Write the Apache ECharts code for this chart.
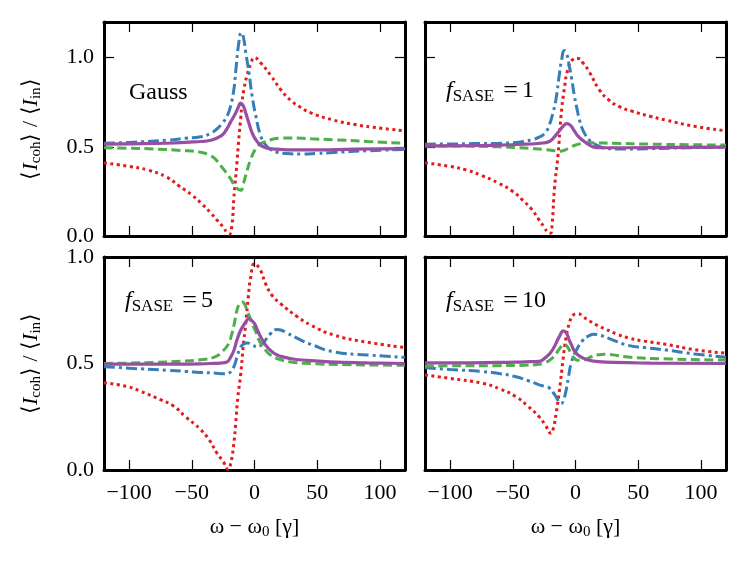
<!DOCTYPE html>
<html>
<head>
<meta charset="utf-8">
<script src="https://cdn.jsdelivr.net/npm/echarts@6/dist/echarts.min.js"></script>
<style>
  html, body { margin: 0; padding: 0; background: #fff; }
  #chart { width: 748px; height: 564px; }
</style>
</head>
<body>
<div id="chart"></div>
<script>
// tick values
var xTicks = [-100, -50, 0, 50, 100];
var yTicks = [0, 0.5, 1.0];
var yMaxTop = 1.2;
var yMaxBottom = 1.0;
var panelLabels = ['Gauss', '1', '5', '10'];

// Gauss
var gaussRed = [[-120,0.41],[-100,0.39],[-85,0.37],[-70,0.33],[-60,0.28],[-50,0.23],[-42,0.18],[-35,0.13],[-30,0.09],[-25,0.05],[-22,0.02],[-20,0.01],[-18,0.06],[-16.5,0.21],[-14,0.41],[-12.5,0.545],[-11,0.66],[-9.9,0.75],[-8.5,0.82],[-6,0.90],[-3,0.965],[0,1.0],[5,0.97],[13,0.90],[21,0.82],[29,0.76],[37,0.72],[45,0.69],[63,0.65],[80,0.625],[100,0.605],[120,0.59]];
var gaussBlue = [[-120,0.52],[-100,0.525],[-70,0.537],[-55,0.548],[-43,0.556],[-35,0.575],[-30,0.60],[-26,0.63],[-22,0.67],[-19,0.73],[-16.5,0.82],[-15,0.92],[-12.5,1.085],[-10.5,1.14],[-9,1.12],[-7,1.03],[-4.5,0.92],[-2,0.79],[1,0.675],[5,0.56],[9,0.51],[13,0.485],[18,0.47],[25,0.462],[37,0.46],[50,0.463],[63,0.468],[90,0.478],[120,0.485]];
var gaussGreen = [[-120,0.495],[-100,0.492],[-80,0.488],[-59,0.48],[-43,0.47],[-35,0.45],[-31,0.43],[-27,0.395],[-23,0.36],[-19,0.32],[-15,0.274],[-11,0.256],[-9,0.29],[-7,0.34],[-3,0.43],[1,0.49],[5,0.517],[9,0.53],[13,0.54],[20,0.548],[29,0.55],[45,0.545],[63,0.54],[90,0.53],[120,0.52]];
var gaussPurple = [[-120,0.515],[-100,0.517],[-70,0.52],[-43,0.53],[-35,0.537],[-27,0.56],[-23,0.59],[-19,0.64],[-15,0.69],[-13,0.72],[-11,0.745],[-9,0.73],[-7,0.69],[-5,0.645],[-3,0.60],[-1,0.565],[1,0.54],[4,0.515],[7,0.50],[12,0.49],[18,0.487],[30,0.483],[50,0.483],[80,0.487],[120,0.49]];

// f_SASE = 1
var f1Red = [[-120,0.41],[-100,0.39],[-87,0.37],[-75,0.34],[-61,0.295],[-50,0.25],[-42,0.20],[-35,0.15],[-29,0.09],[-25,0.05],[-22,0.02],[-20,0.015],[-18.5,0.08],[-16.8,0.265],[-14,0.45],[-11.5,0.675],[-9,0.82],[-6,0.936],[-2,0.99],[2,0.996],[6,0.97],[11,0.92],[19,0.82],[27,0.76],[35,0.725],[45,0.70],[60,0.67],[72,0.65],[95,0.615],[120,0.59]];
var f1Blue = [[-120,0.515],[-100,0.516],[-80,0.518],[-61,0.52],[-45,0.526],[-35,0.54],[-29,0.554],[-24,0.58],[-21,0.62],[-18,0.69],[-15.5,0.77],[-13,0.90],[-11,0.99],[-9,1.04],[-7,1.02],[-5,0.955],[-3,0.88],[-1,0.79],[1,0.72],[3,0.656],[5.5,0.60],[8.5,0.56],[12,0.53],[15,0.517],[20,0.50],[25,0.49],[40,0.488],[60,0.49],[90,0.495],[120,0.498]];
var f1Green = [[-120,0.505],[-100,0.505],[-61,0.50],[-45,0.495],[-34,0.49],[-25,0.485],[-18,0.48],[-13,0.475],[-9,0.48],[-5,0.495],[0,0.51],[6,0.52],[12,0.523],[17,0.522],[30,0.52],[60,0.515],[90,0.512],[120,0.51]];
var f1Purple = [[-120,0.505],[-100,0.505],[-61,0.51],[-40,0.515],[-28,0.52],[-21,0.53],[-17,0.555],[-14,0.58],[-10,0.615],[-7,0.63],[-4,0.62],[-1,0.59],[2,0.56],[6,0.535],[10,0.515],[14,0.50],[20,0.495],[40,0.495],[80,0.497],[120,0.498]];

// f_SASE = 5
var f5Red = [[-120,0.41],[-100,0.39],[-91,0.37],[-75,0.33],[-64.5,0.30],[-55,0.25],[-43,0.19],[-36,0.14],[-30,0.08],[-25,0.04],[-21,0.003],[-19,0.03],[-16.5,0.124],[-15,0.22],[-13.3,0.34],[-11,0.45],[-9,0.58],[-7,0.687],[-5,0.81],[-3,0.906],[0,0.969],[4.8,0.937],[8.8,0.875],[14,0.82],[21,0.78],[34,0.72],[45,0.68],[63,0.634],[90,0.60],[120,0.575]];
var f5Blue = [[-120,0.485],[-100,0.478],[-70,0.468],[-55,0.463],[-43,0.458],[-32,0.455],[-24,0.452],[-20.5,0.455],[-18.5,0.465],[-16.5,0.484],[-14,0.53],[-12,0.565],[-10,0.585],[-6,0.596],[-2,0.59],[2,0.577],[5,0.585],[7.5,0.60],[12.8,0.64],[18,0.66],[22,0.655],[26,0.643],[37,0.61],[45,0.59],[63,0.555],[90,0.54],[120,0.529]];
var f5Green = [[-120,0.50],[-100,0.502],[-80,0.505],[-59,0.51],[-43,0.518],[-32,0.53],[-25,0.56],[-21,0.59],[-18,0.64],[-16,0.69],[-14,0.75],[-12,0.78],[-10,0.79],[-8,0.78],[-6,0.75],[-4,0.72],[-2,0.687],[1,0.65],[3.5,0.61],[7,0.58],[10,0.554],[14,0.535],[18,0.523],[29,0.507],[45,0.50],[70,0.495],[120,0.492]];
var f5Purple = [[-120,0.497],[-100,0.497],[-59,0.497],[-35,0.50],[-27,0.502],[-22,0.507],[-19,0.53],[-16.5,0.56],[-14,0.61],[-11,0.656],[-7,0.695],[-4.5,0.71],[-2,0.70],[0,0.687],[2.5,0.655],[5,0.624],[8.5,0.59],[13,0.56],[18,0.54],[23.5,0.53],[32,0.52],[42,0.515],[60,0.508],[90,0.503],[120,0.50]];

// f_SASE = 10
var f10Red = [[-120,0.446],[-100,0.43],[-74,0.407],[-60,0.38],[-47.5,0.344],[-38,0.30],[-29,0.25],[-24,0.21],[-19.5,0.172],[-17.5,0.2],[-15.5,0.265],[-12.8,0.374],[-10,0.515],[-7.5,0.624],[-5,0.687],[-2,0.726],[2,0.734],[6,0.72],[11,0.70],[17,0.68],[24.5,0.66],[33,0.638],[42,0.62],[55,0.605],[72,0.59],[95,0.565],[120,0.548]];
var f10Blue = [[-120,0.48],[-100,0.472],[-74,0.462],[-60,0.452],[-47.5,0.438],[-38,0.42],[-29,0.40],[-24,0.392],[-20.8,0.385],[-18,0.365],[-15.5,0.343],[-13,0.318],[-11.5,0.311],[-9.5,0.33],[-7.5,0.374],[-5.5,0.44],[-3.5,0.50],[0.5,0.56],[6,0.61],[10,0.628],[15,0.637],[20,0.632],[27,0.617],[42,0.585],[55,0.575],[72.5,0.563],[95,0.545],[120,0.529]];
var f10Green = [[-120,0.488],[-100,0.489],[-61,0.49],[-40,0.492],[-29,0.496],[-24,0.505],[-20.8,0.515],[-18,0.528],[-15.5,0.546],[-12,0.575],[-9,0.59],[-6,0.575],[-3.5,0.546],[-1,0.525],[2,0.515],[5,0.515],[8.5,0.52],[12,0.53],[16.5,0.54],[24.5,0.543],[33,0.538],[42,0.53],[70,0.522],[120,0.516]];
var f10Purple = [[-120,0.503],[-100,0.503],[-61,0.505],[-40,0.508],[-29,0.51],[-23.5,0.53],[-20,0.55],[-17,0.577],[-13,0.625],[-9.5,0.653],[-7,0.64],[-5,0.61],[-3,0.585],[-1,0.56],[2,0.54],[6,0.526],[11,0.515],[16.5,0.51],[30,0.505],[60,0.502],[120,0.50]];

var panels = [
  [gaussRed, gaussBlue, gaussGreen, gaussPurple],
  [f1Red, f1Blue, f1Green, f1Purple],
  [f5Red, f5Blue, f5Green, f5Purple],
  [f10Red, f10Blue, f10Green, f10Purple]
];

var FONT = '"Liberation Serif", "Times New Roman", serif';
var FS = 22;

var grids = [
  {left: 104, top: 22, width: 301, height: 214},
  {left: 425, top: 22, width: 301, height: 214},
  {left: 104, top: 257, width: 301, height: 213},
  {left: 425, top: 257, width: 301, height: 213}
];

var lineStyles = [
  {color: '#e41a1c', width: 3, type: [3, 3.5], cap: 'butt'},        // dotted
  {color: '#377eb8', width: 3, type: [11, 4, 3, 4], cap: 'butt'},   // dash-dot
  {color: '#4daf4a', width: 3, type: [9, 4.5], cap: 'butt'},        // dashed
  {color: '#984ea3', width: 3.2, type: 'solid'}                     // solid
];

var subRich = {
  a: {fontFamily: FONT, fontSize: FS, color: '#000', lineHeight: 26},
  i: {fontFamily: FONT, fontSize: FS, fontStyle: 'italic', color: '#000', lineHeight: 26},
  s: {fontFamily: FONT, fontSize: 15, color: '#000', lineHeight: 14, verticalAlign: 'bottom'},
  b: {fontFamily: FONT, fontSize: 24, color: '#000', lineHeight: 28},
  fi: {fontFamily: FONT, fontSize: 24, fontStyle: 'italic', color: '#000', lineHeight: 28},
  fs: {fontFamily: FONT, fontSize: 17, color: '#000', lineHeight: 15, verticalAlign: 'bottom'},
  eq: {fontFamily: FONT, fontSize: 26, color: '#000', lineHeight: 28, padding: [0, 4, 0, 9]}
};

function fmtX(v) { return v < 0 ? '\u2212' + Math.abs(v) : String(v); }

var xAxes = [], yAxes = [], series = [];
grids.forEach(function (g, i) {
  var bottomRow = i >= 2, leftCol = i % 2 === 0;
  var frame = {show: true, onZero: false, lineStyle: {color: '#000', width: 3}};
  var tick = {show: true, inside: true, length: 10, lineStyle: {color: '#000', width: 1.2}};
  xAxes.push({
    type: 'value', gridIndex: i, position: 'bottom', min: -120, max: 120,
    axisLine: frame,
    axisTick: Object.assign({customValues: xTicks}, tick),
    axisLabel: {show: bottomRow, customValues: xTicks, formatter: fmtX, fontFamily: FONT, fontSize: FS, color: '#000', margin: 12},
    splitLine: {show: false},
    name: bottomRow ? '{a|\u03c9 \u2212 \u03c9}{s|0}{a| [\u03b3]}' : '',
    nameLocation: 'middle', nameGap: 44,
    nameTextStyle: {rich: subRich}
  });
  xAxes.push({
    type: 'value', gridIndex: i, position: 'top', min: -120, max: 120,
    axisLine: frame,
    axisTick: Object.assign({customValues: xTicks}, tick),
    axisLabel: {show: false},
    splitLine: {show: false}
  });
  var ymax = bottomRow ? yMaxBottom : yMaxTop;
  yAxes.push({
    type: 'value', gridIndex: i, position: 'left', min: 0, max: ymax,
    axisLine: frame,
    axisTick: Object.assign({customValues: yTicks}, tick),
    axisLabel: {show: leftCol, customValues: yTicks, formatter: function (v) { return v.toFixed(1); }, fontFamily: FONT, fontSize: FS, color: '#000', margin: 10},
    splitLine: {show: false},
    name: leftCol ? '{a|\u27e8}{i|I}{s|coh}{a|\u27e9 / \u27e8}{i|I}{s|in}{a|\u27e9}' : '',
    nameLocation: 'middle', nameRotate: 90, nameGap: 60,
    nameTextStyle: {rich: subRich}
  });
  yAxes.push({
    type: 'value', gridIndex: i, position: 'right', min: 0, max: ymax,
    axisLine: frame,
    axisTick: Object.assign({customValues: yTicks}, tick),
    axisLabel: {show: false},
    splitLine: {show: false}
  });
  panels[i].forEach(function (d, k) {
    series.push({
      type: 'line', xAxisIndex: 2 * i, yAxisIndex: 2 * i, data: d,
      showSymbol: false, smooth: 0.5,
      lineStyle: lineStyles[k], z: 2 + k
    });
  });
});

var labelPos = [[129, 95], [446, 92], [125, 302], [446, 302]];
var graphics = panelLabels.map(function (t, i) {
  var txt = i === 0 ? '{b|Gauss}' : '{fi|f}{fs|SASE}{eq|=}{b|' + t + '}';
  return {
    type: 'text', left: labelPos[i][0], top: labelPos[i][1] - 14,
    style: {text: txt, rich: subRich, fill: '#000'}
  };
});

var chart = echarts.init(document.getElementById('chart'));
chart.setOption({
  animation: false,
  backgroundColor: '#fff',
  grid: grids,
  xAxis: xAxes,
  yAxis: yAxes,
  series: series,
  graphic: graphics
});
</script>
</body>
</html>
